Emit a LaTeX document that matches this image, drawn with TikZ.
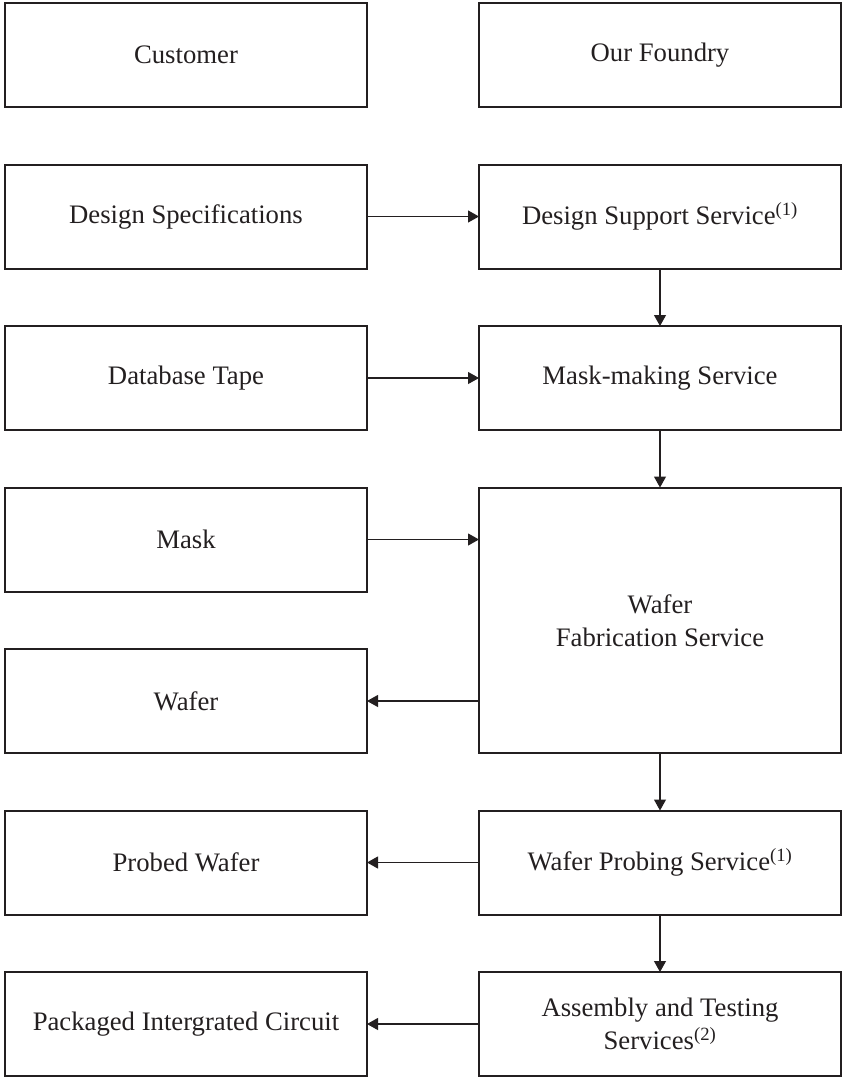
\documentclass[tikz,border=0pt]{standalone}
\usepackage{fontspec}
\setmainfont{Liberation Serif}
\usetikzlibrary{positioning,arrows.meta}
\definecolor{ink}{HTML}{231F20}

\begin{document}
\begin{tikzpicture}[
	box/.style={rectangle, draw=ink, text=ink, line width=2pt, outer sep=0pt, minimum width=362pt, minimum height=104pt, align=center, font=\fontsize{26.7}{33}\selectfont},
	tall/.style={box, minimum height=265.5pt},
	flow/.style={-{Triangle[length=11pt,width=12pt]}, line width=1.1pt, draw=ink},
	node distance=57.5pt and 112pt
	]
	\useasboundingbox (0,0) rectangle (842pt,-1079pt);

		\node (customer) [box] at (186pt,-55pt) {Customer};
		\node (foundry) [box, right=of customer] {Our Foundry};

		\node (designspec) [box, below=of customer] {Design Specifications};
		\node (designsupport) [box, below=of foundry] {Design Support Service\textsuperscript{(1)}};

		\node (tape) [box, below=of designspec] {Database Tape};
		\node (maskmaking) [box, below=of designsupport] {Mask-making Service};

		\node (mask) [box, below=of tape] {Mask};
		\node (fab) [tall, below=of maskmaking] {Wafer\\Fabrication Service};
		\node (wafer) [box, below=of mask] {Wafer};

		\node (probing) [box, below=of fab] {Wafer Probing Service\textsuperscript{(1)}};
		\node (probed) [box, left=of probing] {Probed Wafer};

		\node (assembly) [box, below=of probing] {Assembly and Testing\\Services\textsuperscript{(2)}};
		\node (packaged) [box, below=of probed] {Packaged Intergrated Circuit};

	\draw [flow] (designspec) -- (designsupport);
	\draw [flow] (tape) -- (maskmaking);
	\draw [flow] (mask) -- (mask -| fab.west);
	\draw [flow] (wafer -| fab.west) -- (wafer);
	\draw [flow] (probing) -- (probed);
	\draw [flow] (assembly) -- (packaged);

	\draw [flow] (designsupport) -- (maskmaking);
	\draw [flow] (maskmaking) -- (fab);
	\draw [flow] (fab) -- (probing);
	\draw [flow] (probing) -- (assembly);

\end{tikzpicture}
\end{document}
